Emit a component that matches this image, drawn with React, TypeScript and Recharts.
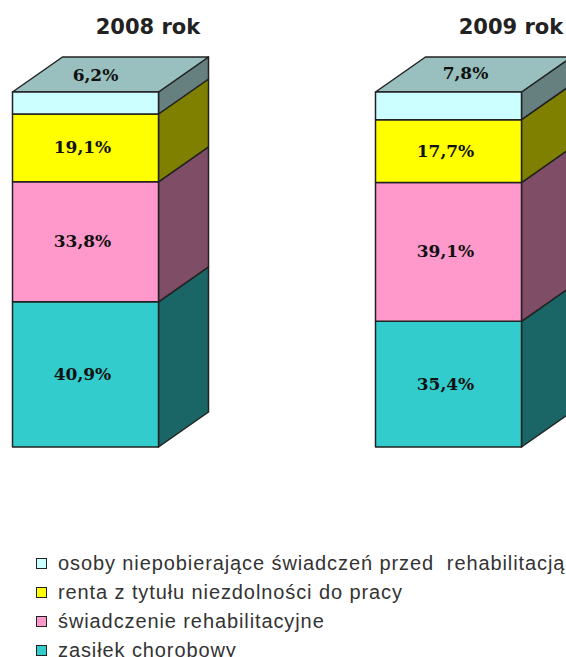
import { Bar, BarChart, LabelList, Legend, XAxis, YAxis } from "recharts";

const years = ["2008 rok", "2009 rok"];
const zasilek = [40.9, 35.4];
const swiadczenie = [33.8, 39.1];
const renta = [19.1, 17.7];
const osoby = [6.2, 7.8];

const chartData = years.map((year, i) => ({
    year,
    zasilek: zasilek[i],
    swiadczenie: swiadczenie[i],
    renta: renta[i],
    osoby: osoby[i],
}));

const DEPTH_X = 50;
const DEPTH_Y = 35;
const OUTLINE = "#222";

const formatPercent = (v: number) => v.toFixed(1).replace(".", ",") + "%";

// front + side face, top face only for the last segment of the stack
function Box3D(props: any) {
    const { x, y, width, height, fill, side, top } = props;
    const r = x + width;
    const b = y + height;
    return (
        <g stroke={OUTLINE} strokeWidth={1.5} strokeLinejoin="round">
            <polygon
                fill={side}
                points={`${r},${y} ${r + DEPTH_X},${y - DEPTH_Y} ${r + DEPTH_X},${b - DEPTH_Y} ${r},${b}`}
            />
            {top && (
                <polygon
                    fill={top}
                    points={`${x},${y} ${x + DEPTH_X},${y - DEPTH_Y} ${r + DEPTH_X},${y - DEPTH_Y} ${r},${y}`}
                />
            )}
            <rect x={x} y={y} width={width} height={height} fill={fill} />
        </g>
    );
}

function SegmentLabel(props: any) {
    const { x, y, width, height, value, shifts, index } = props;
    const shift = shifts ? shifts[index] : [-3, -0.5];
    return (
        <text
            x={x + width / 2 + shift[0]}
            y={y + height / 2 + shift[1]}
            textAnchor="middle"
            dominantBaseline="central"
            fontFamily="DejaVu Serif"
            fontWeight="bold"
            fontSize={17}
            fill="#111"
        >
            {formatPercent(value)}
        </text>
    );
}

function LegendList({ payload }: any) {
    const items = [...(payload || [])].reverse();
    return (
        <div style={{ fontFamily: "Liberation Sans", fontSize: 20, letterSpacing: 0.9, color: "#333" }}>
            {items.map((item: any) => (
                <div key={item.value} style={{ display: "flex", alignItems: "center", height: 29, whiteSpace: "pre" }}>
                    <span
                        style={{
                            width: 9,
                            height: 9,
                            marginRight: 11,
                            background: item.color,
                            border: "1.5px solid #222",
                            flex: "none",
                        }}
                    />
                    {item.value}
                </div>
            ))}
        </div>
    );
}

export default function App() {
    return (
        <div style={{ position: "absolute", left: 0, top: 0, width: 566, height: 657, overflow: "hidden", background: "#fff" }}>
            <BarChart
                width={566}
                height={657}
                data={chartData}
                barSize={146}
                margin={{ top: 32, right: -63.5, bottom: 210, left: -96.5 }}
            >
                <XAxis
                    dataKey="year"
                    orientation="top"
                    height={60}
                    axisLine={false}
                    tickLine={false}
                    interval={0}
                    tickMargin={0}
                    tick={{ fontFamily: "DejaVu Sans", fontWeight: "bold", fontSize: 21, fill: "#222", dx: 63, dy: -52 }}
                />
                <YAxis hide domain={[0, 100]} />
                <Bar
                    dataKey="zasilek"
                    name="zasiłek chorobowy"
                    stackId="a"
                    fill="#33CCCC"
                    isAnimationActive={false}
                    shape={(p: any) => <Box3D {...p} side="#1A6666" />}
                >
                    <LabelList dataKey="zasilek" content={<SegmentLabel />} />
                </Bar>
                <Bar
                    dataKey="swiadczenie"
                    name="świadczenie rehabilitacyjne"
                    stackId="a"
                    fill="#FF99CC"
                    isAnimationActive={false}
                    shape={(p: any) => <Box3D {...p} side="#804D66" />}
                >
                    <LabelList dataKey="swiadczenie" content={<SegmentLabel />} />
                </Bar>
                <Bar
                    dataKey="renta"
                    name="renta z tytułu niezdolności do pracy"
                    stackId="a"
                    fill="#FFFF00"
                    isAnimationActive={false}
                    shape={(p: any) => <Box3D {...p} side="#808000" />}
                >
                    <LabelList dataKey="renta" content={<SegmentLabel />} />
                </Bar>
                <Bar
                    dataKey="osoby"
                    name="osoby niepobierające świadczeń przed  rehabilitacją"
                    stackId="a"
                    fill="#CCFFFF"
                    isAnimationActive={false}
                    shape={(p: any) => <Box3D {...p} side="#668080" top="#99C0BE" />}
                >
                    <LabelList
                        dataKey="osoby"
                        content={<SegmentLabel shifts={[[10, -28], [17, -33]]} />}
                    />
                </Bar>
                <Legend
                    layout="vertical"
                    align="center"
                    verticalAlign="middle"
                    itemSorter={null}
                    wrapperStyle={{ left: 36, top: 549, width: 530 }}
                    content={<LegendList />}
                />
            </BarChart>
        </div>
    );
}
